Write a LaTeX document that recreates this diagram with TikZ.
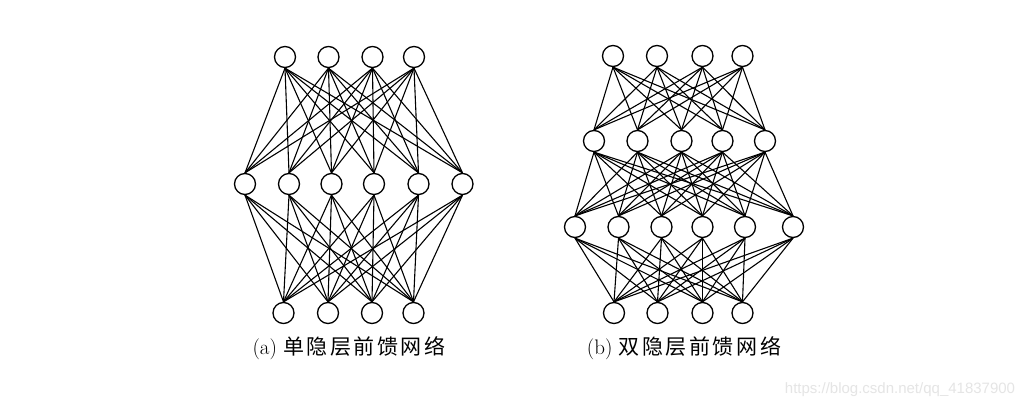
\documentclass[tikz,border=0pt]{standalone}
\usepackage{fontspec}
\newfontfamily\cjk{Noto Sans CJK SC}
\newfontfamily\wmfont{Liberation Sans}
\begin{document}
\begin{tikzpicture}[x=1pt,y=-1pt,
  neuron/.style={circle,draw,line width=1.3pt,minimum size=21pt,inner sep=0pt,fill=white},
  link/.style={line width=1.1pt},
  caption/.style={font=\fontsize{21}{23}\selectfont, inner sep=0pt},
  wm/.style={font=\wmfont\fontsize{15}{16}\selectfont, text=black!10, inner sep=0pt}]
\useasboundingbox (0,0) rectangle (1031,409);
\fill[white] (0,0) rectangle (1031,409);
% network (a)
\foreach \x [count=\i] in {285,328.5,372.5,414} \node[neuron] (aT\i) at (\x,57) {};
\foreach \x [count=\i] in {245,289,331.5,374,418.5,462.5} \node[neuron] (aM\i) at (\x,184) {};
\foreach \x [count=\i] in {283.5,328,372,413.5} \node[neuron] (aB\i) at (\x,313) {};
\foreach \i in {1,...,4} \foreach \j in {1,...,6} {
  \draw[link] (aT\i.south) -- (aM\j.north);
  \draw[link] (aM\j.south) -- (aB\i.north);
}
% network (b)
\foreach \x [count=\i] in {613,657,702.5,742.5} \node[neuron] (bT\i) at (\x,56) {};
\foreach \x [count=\i] in {594,637.5,681.5,722.5,765} \node[neuron] (bP\i) at (\x,141) {};
\foreach \x [count=\i] in {575,618.5,661.5,702.5,745,793} \node[neuron] (bQ\i) at (\x,227) {};
\foreach \x [count=\i] in {614,657.5,702.5,742.5} \node[neuron] (bB\i) at (\x,313) {};
\foreach \i in {1,...,4} \foreach \j in {1,...,5} \draw[link] (bT\i.south) -- (bP\j.north);
\foreach \i in {1,...,5} \foreach \j in {1,...,6} \draw[link] (bP\i.south) -- (bQ\j.north);
\foreach \i in {1,...,6} \foreach \j in {1,...,4} \draw[link] (bQ\i.south) -- (bB\j.north);
% captions
\node[caption] (capa) at (349,348) {(a) {\cjk\addfontfeature{LetterSpace=12}单隐层前馈网络}};
\node[caption] (capb) at (684,348) {(b) {\cjk\addfontfeature{LetterSpace=12}双隐层前馈网络}};
\node[wm] (mark) at (900,390) {https://blog.csdn.net/qq\_41837900};
\end{tikzpicture}
\end{document}
